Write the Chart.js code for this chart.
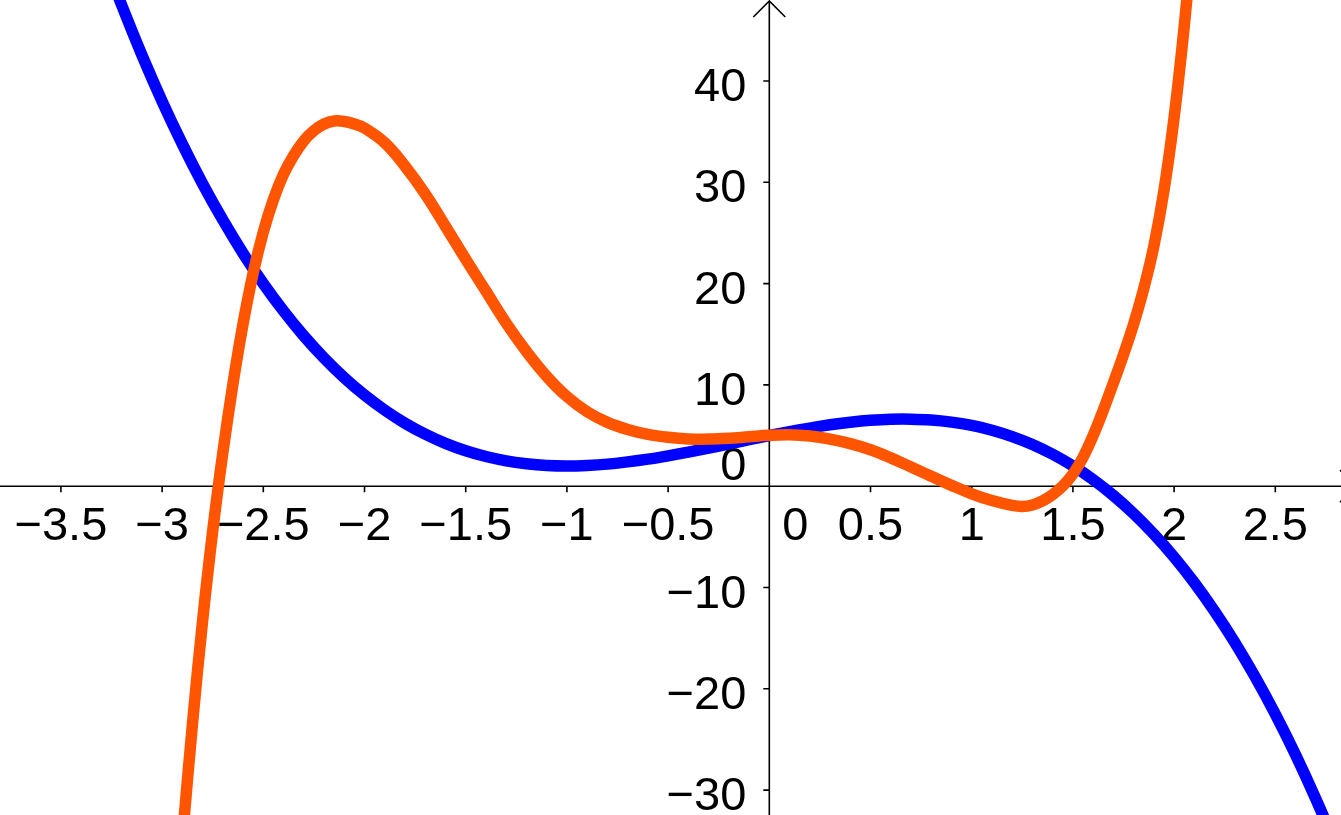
<!DOCTYPE html>
<html>
<head>
<meta charset="utf-8">
<script src="https://cdn.jsdelivr.net/npm/chart.js@4/dist/chart.umd.min.js"></script>
<style>
  html, body { margin: 0; padding: 0; background: #fff; overflow: hidden; }
  #grafico { display: block; }
</style>
</head>
<body>
<canvas id="grafico" width="1341" height="815"></canvas>
<script>
// curva azul (cubica)
const azulX = [-3.4, -3.3, -3.2, -3.1, -3.0, -2.9, -2.8, -2.7, -2.6, -2.5, -2.4, -2.3, -2.2, -2.1, -2.0,
  -1.9, -1.8, -1.7, -1.6, -1.5, -1.4, -1.3, -1.2, -1.1, -1.0, -0.9, -0.8, -0.7, -0.6, -0.5,
  -0.4, -0.3, -0.2, -0.1, 0.0, 0.1, 0.2, 0.3, 0.4, 0.5, 0.6, 0.7, 0.8, 0.9, 1.0,
  1.1, 1.2, 1.3, 1.4, 1.5, 1.6, 1.7, 1.8, 1.9, 2.0, 2.1, 2.2, 2.3, 2.4, 2.5, 2.6, 2.7, 2.8, 2.9];
const azulY = [58.31, 52.78, 47.5, 42.57, 38.0, 33.77, 29.86, 26.28, 22.99, 20.0, 17.29, 14.84, 12.66, 10.71, 9.0,
  7.51, 6.22, 5.14, 4.23, 3.5, 2.93, 2.5, 2.22, 2.05, 2.0, 2.05, 2.18, 2.4, 2.67, 3.0,
  3.37, 3.76, 4.18, 4.59, 5.0, 5.39, 5.74, 6.06, 6.31, 6.5, 6.61, 6.62, 6.54, 6.33, 6.0,
  5.53, 4.9, 4.12, 3.15, 2.0, 0.65, -0.92, -2.7, -4.73, -7.0, -9.53, -12.34, -15.42, -18.81, -22.5, -26.51, -30.86, -35.54, -40.59];

// curva laranja
const laranjaX = [-2.95, -2.90, -2.85, -2.80, -2.75, -2.70, -2.65, -2.60, -2.55, -2.50, -2.45, -2.40, -2.35, -2.30, -2.25,
  -2.20, -2.15, -2.10, -2.05, -2.00, -1.90, -1.80, -1.70, -1.60, -1.50, -1.40, -1.30, -1.20, -1.10, -1.00,
  -0.90, -0.80, -0.70, -0.60, -0.50, -0.40, -0.30, -0.20, -0.10, 0.00, 0.10, 0.20, 0.30, 0.40, 0.50,
  0.60, 0.70, 0.80, 0.90, 1.00, 1.10, 1.20, 1.25, 1.30, 1.35, 1.40, 1.45, 1.50, 1.55, 1.60,
  1.65, 1.70, 1.75, 1.80, 1.85, 1.90, 1.95, 2.00, 2.05, 2.10];
const laranjaY = [-47.0, -34.85, -23.45, -13.3, -4.4, 3.3, 10.1, 16.05, 21.05, 25.1, 28.3, 30.8, 32.65, 34.1, 35.1,
  35.75, 36.05, 36.0, 35.75, 35.35, 33.9, 31.6, 28.85, 25.65, 22.4, 19.25, 16.1, 13.3, 10.85, 8.85,
  7.35, 6.3, 5.6, 5.12, 4.83, 4.67, 4.65, 4.73, 4.88, 5.02, 5.07, 4.95, 4.65, 4.2, 3.6,
  2.8, 1.9, 0.98, 0.08, -0.75, -1.42, -1.9, -2.0, -1.85, -1.45, -0.82, 0.02, 1.2, 2.85, 5.0,
  7.5, 10.2, 13.0, 16.0, 19.5, 23.7, 29.2, 36.4, 45.4, 56.0];

// marcas e rotulos dos eixos
const ticksX = [-3.5, -3, -2.5, -2, -1.5, -1, -0.5, 0.5, 1, 1.5, 2, 2.5];
const rotulosX = ["\u22123.5", "\u22123", "\u22122.5", "\u22122", "\u22121.5", "\u22121", "\u22120.5", "0.5", "1", "1.5", "2", "2.5"];
const ticksY = [40, 30, 20, 10, -10, -20, -30];
const rotulosY = ["40", "30", "20", "10", "\u221210", "\u221220", "\u221230"];

function pontos(xs, ys) {
  return xs.map((x, i) => ({ x: x, y: ys[i] }));
}

// desenha os eixos no estilo GeoGebra (antes das curvas)
const eixosPlugin = {
  id: "eixos",
  beforeDatasetsDraw(chart) {
    const ctx = chart.ctx;
    const sx = chart.scales.x;
    const sy = chart.scales.y;
    const x0 = sx.getPixelForValue(0);
    const y0 = sy.getPixelForValue(0);
    const w = chart.width;
    const h = chart.height;

    ctx.save();
    ctx.strokeStyle = "#000";
    ctx.lineWidth = 1.6;

    ctx.beginPath();
    ctx.moveTo(0, y0);
    ctx.lineTo(w + 20, y0);
    ctx.moveTo(x0, 1);
    ctx.lineTo(x0, h);
    // setas
    ctx.moveTo(x0 - 16, 17);
    ctx.lineTo(x0, 1);
    ctx.lineTo(x0 + 16, 17);
    ctx.moveTo(w - 1, y0 - 16);
    ctx.lineTo(w + 15, y0);
    ctx.lineTo(w - 1, y0 + 16);
    ctx.stroke();

    ctx.beginPath();
    ticksX.forEach((v) => {
      const px = sx.getPixelForValue(v);
      ctx.moveTo(px, y0);
      ctx.lineTo(px, y0 + 6);
    });
    ticksY.forEach((v) => {
      const py = sy.getPixelForValue(v);
      ctx.moveTo(x0 - 6, py);
      ctx.lineTo(x0, py);
    });
    ctx.stroke();

    ctx.fillStyle = "#000";
    ctx.font = '47px "Liberation Sans", Arial, sans-serif';
    ctx.textBaseline = "alphabetic";

    ctx.textAlign = "center";
    ticksX.forEach((v, i) => {
      ctx.fillText(rotulosX[i], sx.getPixelForValue(v), y0 + 54);
    });
    ctx.textAlign = "left";
    ctx.fillText("0", x0 + 13, y0 + 54);

    ctx.textAlign = "right";
    ticksY.forEach((v, i) => {
      ctx.fillText(rotulosY[i], x0 - 23, sy.getPixelForValue(v) + 20);
    });
    ctx.fillText("0", x0 - 23, y0 - 6);
    ctx.restore();
  }
};

new Chart(document.getElementById("grafico"), {
  type: "scatter",
  data: {
    datasets: [
      {
        label: "f",
        data: pontos(azulX, azulY),
        showLine: true,
        borderColor: "#0000ff",
        borderWidth: 11.5,
        pointRadius: 0,
        tension: 0.4,
        capBezierPoints: false,
        order: 1,
      },
      {
        label: "g",
        data: pontos(laranjaX, laranjaY),
        showLine: true,
        borderColor: "#ff5500",
        borderWidth: 11.5,
        pointRadius: 0,
        tension: 0.4,
        capBezierPoints: false,
        order: 0,
      },
    ],
  },
  options: {
    responsive: false,
    animation: false,
    devicePixelRatio: 1,
    layout: { padding: 0 },
    plugins: { legend: { display: false }, tooltip: { enabled: false } },
    scales: {
      x: { type: "linear", min: -3.801, max: 2.8246, display: false },
      y: { type: "linear", min: -32.458, max: 47.996, display: false },
    },
  },
  plugins: [eixosPlugin],
});
</script>
</body>
</html>
